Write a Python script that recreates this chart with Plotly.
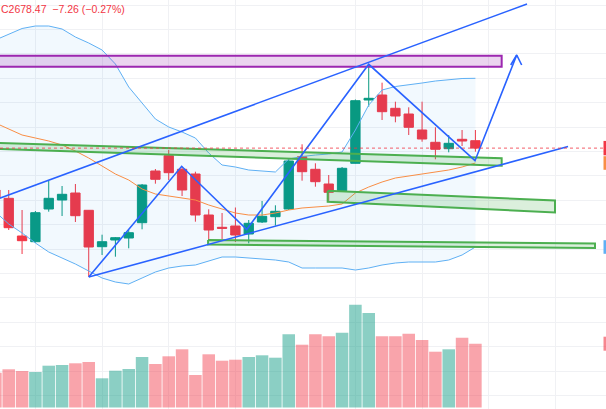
import plotly.graph_objects as go

# ---------------- data ----------------
idx = list(range(37))
opens = [2635.56, 2627.05, 2588.42, 2582.58, 2616.09, 2625.31, 2632.48, 2614.76, 2577.46, 2584.33,
         2586.38, 2602.05, 2655.02, 2670.70, 2656.77, 2651.95, 2609.94, 2597.34, 2598.67, 2590.47,
         2602.77, 2608.20, 2616.09, 2669.68, 2656.77, 2641.70, 2634.84, 2662.91, 2727.77, 2732.89,
         2719.27, 2713.43, 2697.03, 2684.43, 2677.87, 2687.50, 2686.07]
highs = [2640.68, 2635.56, 2615.06, 2614.04, 2644.78, 2639.65, 2641.70, 2615.06, 2589.76, 2587.40,
         2594.57, 2641.70, 2657.07, 2676.54, 2659.43, 2654.31, 2615.78, 2611.99, 2617.63, 2604.82,
         2624.29, 2619.88, 2667.01, 2682.38, 2662.91, 2650.92, 2659.12, 2728.28, 2764.35, 2745.50,
         2726.03, 2720.29, 2726.03, 2699.80, 2691.91, 2697.03, 2697.03]
lows = [2620.19, 2594.57, 2569.98, 2581.56, 2613.32, 2608.92, 2602.77, 2546.72, 2568.96, 2567.22,
        2575.82, 2595.29, 2642.01, 2645.80, 2629.41, 2603.08, 2584.33, 2585.35, 2582.28, 2580.94,
        2601.74, 2598.98, 2615.06, 2645.09, 2638.94, 2623.57, 2634.53, 2662.70, 2720.91, 2707.28,
        2704.92, 2691.91, 2685.04, 2667.01, 2674.18, 2680.64, 2674.80]
closes = [2627.36, 2596.93, 2583.61, 2612.30, 2627.05, 2631.15, 2609.22, 2577.15, 2582.58, 2586.68,
          2591.81, 2640.68, 2646.52, 2653.28, 2635.56, 2609.94, 2594.57, 2596.31, 2589.45, 2601.44,
          2608.61, 2613.73, 2665.27, 2654.31, 2644.06, 2633.20, 2657.79, 2727.05, 2729.51, 2715.78,
          2711.38, 2699.80, 2687.81, 2677.26, 2683.40, 2685.73, 2678.47]
volumes = [348, 382, 365, 355, 418, 425, 442, 455, 292, 368,
           385, 505, 435, 512, 582, 325, 532, 468, 478, 505,
           522, 498, 732, 628, 732, 712, 748, 1028, 945, 712,
           712, 738, 675, 558, 582, 698, 638]
bb_upper = [2789.25, 2795.39, 2801.03, 2803.59, 2803.59, 2800.52, 2792.32, 2786.17, 2779.00, 2764.66,
            2741.09, 2724.70, 2708.30, 2700.11, 2694.98, 2688.84, 2673.47, 2661.17, 2659.12, 2656.05,
            2655.02, 2654.00, 2667.32, 2669.88, 2671.42, 2672.44, 2674.49, 2697.03, 2722.65, 2738.02,
            2741.60, 2743.14, 2745.19, 2747.24, 2748.77, 2749.80, 2750.00]
bb_basis = [2704.20, 2698.06, 2691.91, 2688.84, 2685.76, 2681.66, 2675.52, 2668.34, 2660.15, 2651.95,
            2645.80, 2636.58, 2631.46, 2629.41, 2627.36, 2625.31, 2620.19, 2616.09, 2611.99, 2609.94,
            2609.94, 2611.99, 2615.06, 2617.11, 2618.14, 2619.16, 2621.21, 2632.48, 2638.63, 2643.75,
            2647.85, 2649.90, 2651.95, 2654.00, 2656.05, 2659.12, 2663.22]
bb_lower = [2613.01, 2600.72, 2591.50, 2581.25, 2572.03, 2565.88, 2559.74, 2552.56, 2545.39, 2541.29,
            2539.24, 2545.39, 2551.54, 2555.64, 2557.69, 2558.71, 2562.81, 2566.91, 2566.91, 2565.88,
            2564.86, 2563.83, 2561.78, 2555.64, 2555.64, 2555.64, 2555.64, 2553.59, 2555.64, 2558.71,
            2560.76, 2561.78, 2561.78, 2561.78, 2563.83, 2568.96, 2577.15]

# drawings (bar index, price)
purple_zone_x = [-5, 37.97, 37.97, -5]
purple_zone_y = [2773.16, 2773.16, 2761.89, 2761.89]
green_band1_x = [-1.155, 37.97, 37.97, -1.155]
green_band1_y = [2684.33, 2668.04, 2660.45, 2678.28]
green_band2_x = [24.92, 41.97, 41.97, 24.92]
green_band2_y = [2634.84, 2624.80, 2612.50, 2623.57]
green_band3_x = [15.95, 44.97, 44.97, 15.95]
green_band3_y = [2584.33, 2580.74, 2576.13, 2579.72]
upper_channel_x = [-1.155, 39.87]
upper_channel_y = [2619.78, 2826.13]
lower_channel_x = [7, 42.95]
lower_channel_y = [2546.42, 2680.13]
zigzag_x = [7, 13.97, 18.85, 28, 35.97, 39.10]
zigzag_y = [2546.42, 2659.84, 2595.08, 2764.35, 2665.58, 2773.88]
arrow_x = [38.65, 39.10, 39.47]
arrow_y = [2763.63, 2773.88, 2763.63]

GREEN = "#089981"
RED = "#F23645"
BLUE = "#2962FF"

fig = go.Figure()

# volume
vol_colors = ["rgba(8,153,129,0.47)" if c >= o else "rgba(242,54,69,0.45)" for o, c in zip(opens, closes)]
fig.add_trace(go.Bar(x=idx, y=volumes, marker=dict(color=vol_colors, line=dict(width=0)),
                     width=0.94, yaxis="y2", hoverinfo="skip"))

# Bollinger bands
fig.add_trace(go.Scatter(x=idx, y=bb_lower, mode="lines", line=dict(color="#5FB0F4", width=1)))
fig.add_trace(go.Scatter(x=idx, y=bb_upper, mode="lines", line=dict(color="#5FB0F4", width=1),
                         fill="tonexty", fillcolor="rgba(33,150,243,0.06)"))
fig.add_trace(go.Scatter(x=idx, y=bb_basis, mode="lines", line=dict(color="#F98E45", width=1)))

# candles
fig.add_trace(go.Candlestick(x=idx, open=opens, high=highs, low=lows, close=closes,
                             increasing=dict(line=dict(color=GREEN, width=1), fillcolor=GREEN),
                             decreasing=dict(line=dict(color=RED, width=1), fillcolor=RED),
                             hoverinfo="skip"))

# zones
def zone(xs, ys, line_c, fill_c):
    fig.add_trace(go.Scatter(x=xs + xs[:1], y=ys + ys[:1], mode="lines", fill="toself",
                             fillcolor=fill_c, line=dict(color=line_c, width=2)))

zone(purple_zone_x, purple_zone_y, "#9C27B0", "rgba(156,39,176,0.2)")
zone(green_band1_x, green_band1_y, "#4CAF50", "rgba(76,175,80,0.2)")
zone(green_band2_x, green_band2_y, "#4CAF50", "rgba(76,175,80,0.2)")
zone(green_band3_x, green_band3_y, "#4CAF50", "rgba(76,175,80,0.2)")

# trend lines
for xs, ys in [(upper_channel_x, upper_channel_y), (lower_channel_x, lower_channel_y),
               (zigzag_x, zigzag_y), (arrow_x, arrow_y)]:
    fig.add_trace(go.Scatter(x=xs, y=ys, mode="lines", line=dict(color=BLUE, width=1.6)))

# last price line
last = closes[-1]
fig.add_shape(type="line", xref="paper", x0=0, x1=1, yref="y", y0=last, y1=last,
              line=dict(color=RED, width=1, dash="dot"), opacity=0.8)

# clipped price-scale labels at right edge
px = 1.0246
for val, col, half in [(last, RED, 7.2 * px), (bb_basis[-1], "#F98E45", 6.8 * px),
                       (bb_lower[-1], "#5FB0F4", 6.8 * px)]:
    fig.add_shape(type="rect", xref="paper", x0=603.5 / 606, x1=1, yref="y",
                  y0=val - half, y1=val + half, fillcolor=col, line=dict(width=0))
fig.add_shape(type="rect", xref="paper", x0=603.5 / 606, x1=1, yref="y2",
              y0=volumes[-1] - 70, y1=volumes[-1] + 70, fillcolor="rgba(242,54,69,0.6)",
              line=dict(width=0))

chg = closes[-1] - closes[-2]
pct = chg / closes[-2] * 100
legend_txt = f"C{last:.2f}  {chg:.2f} ({pct:.2f}%)".replace("-", "\u2212")
fig.add_annotation(text=legend_txt, xref="paper", yref="paper", x=0, y=1, xanchor="left",
                   yanchor="top", xshift=-1, yshift=-1, showarrow=False,
                   font=dict(family="Liberation Sans", size=10.5, color=RED))

fig.update_layout(
    width=606, height=409, margin=dict(l=0, r=0, t=0, b=0),
    paper_bgcolor="white", plot_bgcolor="white", showlegend=False, hovermode=False,
    boxgap=0.3, boxgroupgap=0,
    xaxis=dict(range=[0.345, 45.795], tickvals=[3, 8, 13, 18, 27, 32, 37, 42],
               showticklabels=False, showgrid=True, gridcolor="#F0F1F4", zeroline=False,
               rangeslider=dict(visible=False), ticks=""),
    yaxis=dict(range=[2411.17, 2830.23], tick0=2675, dtick=25, showticklabels=False,
               showgrid=True, gridcolor="#F0F1F4", zeroline=False, ticks=""),
    yaxis2=dict(overlaying="y", range=[-15, 4075], visible=False, showgrid=False),
)

fig.write_html("out.html")
